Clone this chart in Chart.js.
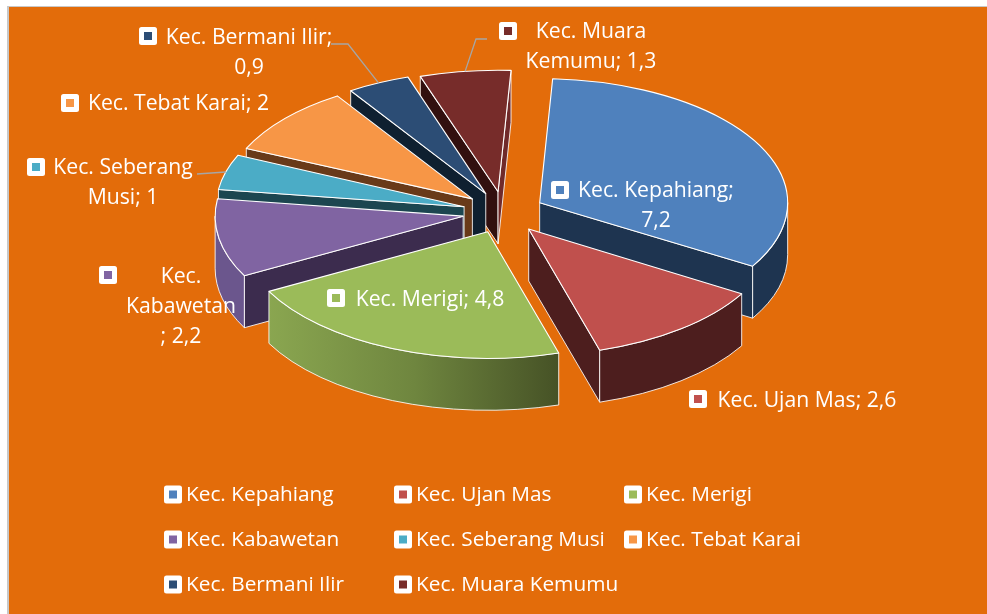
<!DOCTYPE html>
<html>
<head>
<meta charset="utf-8">
<style>html,body{margin:0;padding:0;background:#fff;overflow:hidden}canvas{display:block}</style>
<script src="https://cdn.jsdelivr.net/npm/chart.js@4"></script>
</head>
<body>
<div style="width:987px;height:614px;position:relative"><canvas id="c" width="987" height="614"></canvas></div>
<script>
const categories = ['Kec. Kepahiang','Kec. Ujan Mas','Kec. Merigi','Kec. Kabawetan','Kec. Seberang Musi','Kec. Tebat Karai','Kec. Bermani Ilir','Kec. Muara Kemumu'];
const values = [7.2,2.6,4.8,2.2,1,2,0.9,1.3];
const topColors = ['#4F81BD','#C0504D','#9BBB59','#8064A2','#4BACC6','#F79646','#2C4D75','#772C2A'];
const wallColors = ['#1E3450','#4D1E1E','#3E4B24','#3C2C4E','#1C4650','#693A19','#0F2030','#32100F'];
const rimColors = ['#1E3450','#4D1E1E','#6F863F','#6B568D','#1C4650','#693A19','#0F2030','#702A2A'];
const labelLines = [['Kec. Kepahiang;','7,2'],['Kec. Ujan Mas; 2,6'],['Kec. Merigi; 4,8'],['Kec.','Kabawetan','; 2,2'],['Kec. Seberang','Musi; 1'],['Kec. Tebat Karai; 2'],['Kec. Bermani Ilir;','0,9'],['Kec. Muara','Kemumu; 1,3']];
// label placement: marker centre, text centre x, first line centre y
const labelPlace = [[560,190,656,191],[698,399,807,401],[336,298,430,300],[108,275,181,277],[36,167,123,168],[70,103,178.5,104],[148,36,249,38],[508,31,591,32]];
const leaderStart = {6:[331,44,348,44],7:[487,39,476,39],4:[197,174,197,174]};
const legendCols = [173,403,633];
const legendRows = [494.5,539.5,584.5];
const paintOrder = [7,6,5,4,0,3,1,2];
const tilt = 0.51, depth = 52, explode = 41;
const sliceTilt = [0.5,0.51,0.51,0.51,0.505,0.495,0.495,0.49];
const LABEL_FONT = '21.2px "Open Sans"', LEGEND_FONT = '20.8px "Open Sans"';

function geom(arc,i){
  const mid=(arc.startAngle+arc.endAngle)/2;
  return {x:arc.x+Math.cos(mid)*explode, y:arc.y+Math.sin(mid)*explode*tilt, R:arc.outerRadius, k:sliceTilt[i], a:arc.startAngle, b:arc.endAngle};
}
function cutFace(ctx,g,t,fill){
  const ex=g.x+g.R*Math.cos(t), ey=g.y+g.R*g.k*Math.sin(t);
  ctx.beginPath();ctx.moveTo(g.x,g.y);ctx.lineTo(ex,ey);ctx.lineTo(ex,ey+depth);ctx.lineTo(g.x,g.y+depth);ctx.closePath();
  ctx.fillStyle=fill;ctx.fill();ctx.stroke();
}
function walls(ctx,arc,i){
  const g=geom(arc,i);
  ctx.save();ctx.strokeStyle='rgba(255,255,255,0.85)';ctx.lineWidth=1;ctx.lineJoin='round';
  if(Math.cos(g.a)<0) cutFace(ctx,g,g.a,wallColors[i]);
  if(Math.cos(g.b)>0) cutFace(ctx,g,g.b,rimColors[i]);
  const t1=Math.max(g.a,0), t2=Math.min(g.b,Math.PI);
  if(t2>t1){
    ctx.beginPath();
    ctx.ellipse(g.x,g.y,g.R,g.R*g.k,0,t1,t2);
    ctx.ellipse(g.x,g.y+depth,g.R,g.R*g.k,0,t2,t1,true);
    ctx.closePath();
    let fill=rimColors[i];
    if(i===2){
      const gr=ctx.createLinearGradient(g.x+g.R*Math.cos(t2),0,g.x+g.R*Math.cos(t1),0);
      gr.addColorStop(0,'#8AA650');gr.addColorStop(0.5,'#6F863F');gr.addColorStop(1,'#465226');
      fill=gr;
    }
    ctx.fillStyle=fill;ctx.fill();ctx.stroke();
  }
  ctx.restore();
}
function topOutline(ctx,arc,i){
  const g=geom(arc,i);
  ctx.save();ctx.strokeStyle='#fff';ctx.lineWidth=1.1;ctx.lineJoin='round';
  ctx.beginPath();ctx.moveTo(g.x,g.y);ctx.ellipse(g.x,g.y,g.R,g.R*g.k,0,g.a,g.b);ctx.closePath();ctx.stroke();
  ctx.restore();
}
function marker(ctx,cx,cy,color){
  ctx.fillStyle='#fff';ctx.beginPath();ctx.roundRect(cx-9,cy-9,18,18,2.5);ctx.fill();
  ctx.fillStyle=color;ctx.fillRect(cx-4,cy-4,8,8);
}
const pie3d = {
  id:'pie3d',
  beforeDraw(chart){
    const ctx=chart.ctx;
    ctx.save();
    ctx.fillStyle='#fff';ctx.fillRect(0,0,987,614);
    ctx.fillStyle='#C8C8C8';ctx.fillRect(7,6,980,608);
    ctx.fillStyle='#E36C0A';ctx.fillRect(9,7,978,607);
    ctx.restore();
  },
  beforeDatasetDraw(chart,args){
    const ctx=chart.ctx, arcs=args.meta.data;
    paintOrder.forEach(i=>{
      const arc=arcs[i], g=geom(arc,i);
      walls(ctx,arc,i);
      ctx.save();
      ctx.translate(g.x-arc.x,g.y-arc.y);
      ctx.translate(0,arc.y);ctx.scale(1,g.k);ctx.translate(0,-arc.y);
      arc.draw(ctx);
      ctx.restore();
      topOutline(ctx,arc,i);
    });
    return false;
  },
  afterDraw(chart){
    const ctx=chart.ctx, arcs=chart.getDatasetMeta(0).data;
    ctx.save();
    // leader lines
    ctx.strokeStyle='#A6A6A6';ctx.lineWidth=1.3;
    Object.keys(leaderStart).forEach(k=>{
      const g=geom(arcs[k],k), m=(g.a+g.b)/2, s=leaderStart[k];
      ctx.beginPath();ctx.moveTo(s[0],s[1]);ctx.lineTo(s[2],s[3]);
      ctx.lineTo(g.x+g.R*Math.cos(m),g.y+g.R*g.k*Math.sin(m));ctx.stroke();
    });
    ctx.font=LABEL_FONT;ctx.textBaseline='middle';ctx.textAlign='center';
    labelLines.forEach((lines,i)=>{
      const p=labelPlace[i];
      marker(ctx,p[0],p[1],topColors[i]);
      ctx.fillStyle='#fff';
      lines.forEach((t,j)=>ctx.fillText(t,p[2],p[3]+j*30));
    });
    // legend grid
    ctx.font=LEGEND_FONT;ctx.textAlign='left';
    categories.forEach((name,i)=>{
      const cx=legendCols[i%3], cy=legendRows[Math.floor(i/3)];
      marker(ctx,cx,cy,topColors[i]);
      ctx.fillStyle='#fff';ctx.fillText(name,cx+13,cy+1);
    });
    ctx.restore();
  }
};
new Chart(document.getElementById('c'),{
  type:'pie',
  data:{labels:categories,datasets:[{data:values,backgroundColor:topColors,borderWidth:0,hoverOffset:0}]},
  options:{
    responsive:false,animation:false,
    rotation:3,
    radius:248,
    layout:{padding:{left:20,right:0,top:0,bottom:189}},
    plugins:{legend:{display:false},tooltip:{enabled:false}},
    events:[]
  },
  plugins:[pie3d]
});
</script>
</body>
</html>
